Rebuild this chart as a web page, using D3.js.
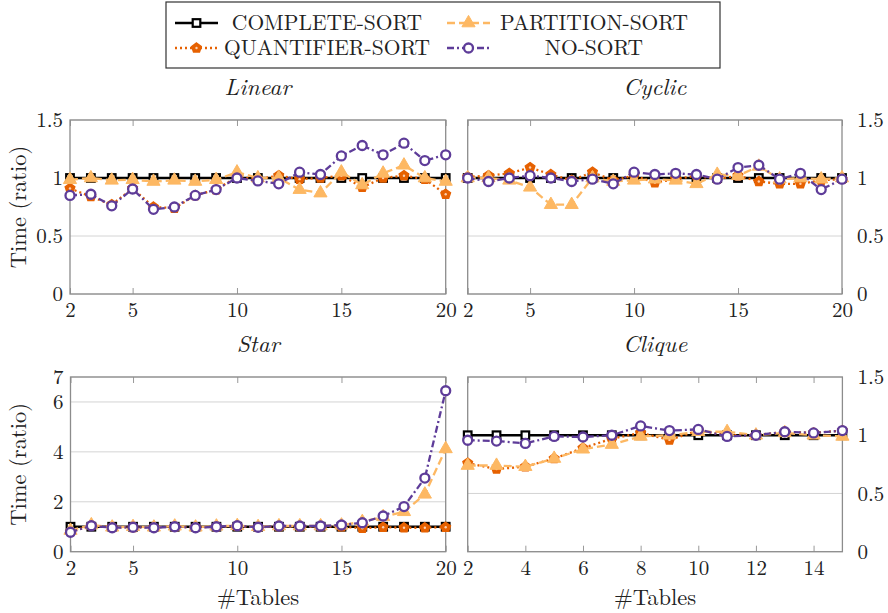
<!DOCTYPE html>
<html>
<head>
<meta charset="utf-8">
<script src="https://cdn.jsdelivr.net/npm/d3@7"></script>
<style>
body { margin: 0; background: #fff; }
text { font-family: "Latin Modern Roman", "Liberation Serif", serif; fill: #222; }
</style>
</head>
<body>
<div id="chart"></div>
<script>
// ---- data ----
var xTables20 = d3.range(2, 21);
var xTables15 = d3.range(2, 16);

var seriesNames = ["COMPLETE-SORT", "QUANTIFIER-SORT", "PARTITION-SORT", "NO-SORT"];

var linearComplete   = [1,1,1,1,1,1,1,1,1,1,1,1,1,1,1,1,1,1,1];
var linearQuantifier = [0.91,0.84,0.77,0.91,0.75,0.74,0.85,0.90,1.01,0.99,1.02,0.99,1.00,1.02,0.92,1.00,1.02,0.99,0.86];
var linearPartition  = [0.985,1.00,0.98,0.985,0.97,0.98,0.97,0.985,1.05,1.00,1.00,0.90,0.87,1.05,0.94,1.04,1.11,1.00,0.97];
var linearNoSort     = [0.85,0.86,0.76,0.905,0.73,0.75,0.85,0.90,1.00,0.975,0.95,1.05,1.03,1.19,1.28,1.20,1.30,1.15,1.20];

var cyclicComplete   = [1,1,1,1,1,1,1,1,1,1,1,1,1,1,1,1,1,1,1];
var cyclicQuantifier = [1.01,1.02,1.04,1.09,1.03,0.98,1.05,0.98,1.02,0.96,0.99,1.02,0.99,1.02,0.97,0.95,0.95,0.98,0.99];
var cyclicPartition  = [1.00,1.00,0.98,0.92,0.77,0.77,1.00,0.97,0.98,0.99,0.98,0.95,1.03,1.02,1.10,0.99,1.00,0.99,1.00];
var cyclicNoSort     = [1.00,0.97,1.00,1.02,1.00,0.97,0.99,0.95,1.05,1.03,1.04,1.03,0.99,1.09,1.11,0.99,1.04,0.90,0.99];

var starComplete   = [1,1,1,1,1,1,1,1,1,1,1,1,1,1,1,1,1,1,1];
var starQuantifier = [0.80,1.05,0.98,0.97,0.98,1.00,0.98,1.00,1.02,0.98,1.01,1.01,1.01,1.00,0.94,0.98,0.96,0.96,0.98];
var starPartition  = [0.85,1.07,0.98,1.00,0.98,1.02,0.98,1.02,1.04,1.00,1.03,1.03,1.03,1.06,1.20,1.40,1.60,2.30,4.12];
var starNoSort     = [0.78,1.04,0.96,0.98,0.96,1.00,0.96,1.00,1.04,0.98,1.03,1.03,1.03,1.07,1.16,1.43,1.81,2.95,6.45];

var cliqueComplete   = [1,1,1,1,1,1,1,1,1,1,1,1,1,1];
var cliqueQuantifier = [0.76,0.71,0.73,0.80,0.89,0.97,1.02,0.96,1.04,1.00,1.00,1.03,1.02,1.04];
var cliquePartition  = [0.74,0.74,0.73,0.80,0.88,0.92,0.99,1.00,1.03,1.03,1.00,1.02,1.00,0.99];
var cliqueNoSort     = [0.957,0.95,0.93,0.99,0.985,1.00,1.08,1.04,1.05,0.99,1.00,1.03,1.02,1.04];

var linearTicksX = [2, 5, 10, 15, 20];
var cliqueTicksX = [2, 4, 6, 8, 10, 12, 14];
var ratioTicksY = [0, 0.5, 1, 1.5];
var starTicksY = [0, 2, 4, 6, 7];

// ---- styles ----
var styles = [
  { color: "#000000", dash: null,      marker: "square" },
  { color: "#e66101", dash: "2,3",     marker: "pentagon" },
  { color: "#fdb863", dash: "8,4",     marker: "triangle" },
  { color: "#5e3c99", dash: "7,3,2,3", marker: "circle" }
];
var tickFont = 21;
var titleFont = 23.5;
var labelFont = 22.5;
var legendFont = 21.5;

var svg = d3.select("#chart").append("svg")
  .attr("width", 888)
  .attr("height", 613);

var panels = [
  { title: "Linear", x: xTables20, series: [linearComplete, linearQuantifier, linearPartition, linearNoSort],
    xDomain: [2, 20], yDomain: [0, 1.5], xTicks: linearTicksX, yTicks: ratioTicksY,
    left: 70, right: 445.7, top: 120, bottom: 294, yAxisSide: "left", yLabel: true, xLabel: false },
  { title: "Cyclic", x: xTables20, series: [cyclicComplete, cyclicQuantifier, cyclicPartition, cyclicNoSort],
    xDomain: [2, 20], yDomain: [0, 1.5], xTicks: linearTicksX, yTicks: ratioTicksY,
    left: 467.7, right: 842, top: 120, bottom: 294, yAxisSide: "right", yLabel: false, xLabel: false },
  { title: "Star", x: xTables20, series: [starComplete, starQuantifier, starPartition, starNoSort],
    xDomain: [2, 20], yDomain: [0, 7], xTicks: linearTicksX, yTicks: starTicksY,
    left: 70.5, right: 445.7, top: 377, bottom: 551.7, yAxisSide: "left", yLabel: true, xLabel: true },
  { title: "Clique", x: xTables15, series: [cliqueComplete, cliqueQuantifier, cliquePartition, cliqueNoSort],
    xDomain: [2, 15], yDomain: [0, 1.5], xTicks: cliqueTicksX, yTicks: ratioTicksY,
    left: 467.7, right: 842.4, top: 377, bottom: 551.7, yAxisSide: "right", yLabel: false, xLabel: true }
];

function pentagonPath(r) {
  var pts = d3.range(5).map(function (i) {
    var a = -Math.PI / 2 + i * 2 * Math.PI / 5;
    return [r * Math.cos(a), r * Math.sin(a)];
  });
  return "M" + pts.join("L") + "Z";
}

function drawMarker(g, kind, color) {
  if (kind === "square") {
    g.append("rect").attr("x", -3.8).attr("y", -3.8).attr("width", 7.6).attr("height", 7.6)
      .attr("fill", "#fff").attr("stroke", color).attr("stroke-width", 2.2);
  } else if (kind === "pentagon") {
    g.append("path").attr("d", pentagonPath(5))
      .attr("fill", color).attr("stroke", color).attr("stroke-width", 1.5);
    g.append("circle").attr("r", 1.2).attr("fill", "#fbd0b0");
  } else if (kind === "triangle") {
    g.append("path").attr("d", d3.symbol().type(d3.symbolTriangle).size(75)())
      .attr("fill", color).attr("stroke", color).attr("stroke-width", 1);
  } else {
    g.append("circle").attr("r", 4.5)
      .attr("fill", "#fff").attr("stroke", color).attr("stroke-width", 2.3);
  }
}

function drawPanel(p) {
  var xScale = d3.scaleLinear().domain(p.xDomain).range([p.left, p.right]);
  var yScale = d3.scaleLinear().domain(p.yDomain).range([p.bottom, p.top]);
  var g = svg.append("g");

  // grid lines
  g.selectAll(".grid").data(p.yTicks).enter().append("line")
    .attr("x1", p.left).attr("x2", p.right)
    .attr("y1", d => yScale(d)).attr("y2", d => yScale(d))
    .attr("stroke", "#d4d4d4").attr("stroke-width", 1);

  // x axes, ticks inward top and bottom
  var bottomAxis = d3.axisBottom(xScale).tickValues(p.xTicks).tickSizeInner(-6).tickSizeOuter(0).tickPadding(8);
  var xAxis = g.append("g").attr("transform", `translate(0, ${p.bottom})`).call(bottomAxis);
  xAxis.select(".domain").remove();
  xAxis.selectAll("line").attr("stroke", "#999");
  xAxis.selectAll("text").attr("font-size", tickFont).attr("fill", "#222");

  var topAxis = d3.axisTop(xScale).tickValues(p.xTicks).tickSizeInner(-6).tickSizeOuter(0).tickFormat("");
  var xTop = g.append("g").attr("transform", `translate(0, ${p.top})`).call(topAxis);
  xTop.select(".domain").remove();
  xTop.selectAll("line").attr("stroke", "#999");

  // y axis labels
  var yAxisGen = p.yAxisSide === "left" ? d3.axisLeft(yScale) : d3.axisRight(yScale);
  yAxisGen.tickValues(p.yTicks).tickSize(0).tickPadding(p.yAxisSide === "left" ? 7 : 15).tickFormat(d3.format("~g"));
  var yAxis = g.append("g")
    .attr("transform", `translate(${p.yAxisSide === "left" ? p.left : p.right}, 0)`)
    .call(yAxisGen);
  yAxis.select(".domain").remove();
  yAxis.selectAll("text").attr("font-size", tickFont).attr("fill", "#222");

  // frame
  g.append("rect")
    .attr("x", p.left).attr("y", p.top)
    .attr("width", p.right - p.left).attr("height", p.bottom - p.top)
    .attr("fill", "none").attr("stroke", "#8c8c8c").attr("stroke-width", 1.3);

  // title
  g.append("text")
    .attr("x", (p.left + p.right) / 2).attr("y", p.top - 25)
    .attr("text-anchor", "middle").attr("font-size", titleFont).attr("font-style", "italic")
    .text(p.title);

  if (p.yLabel) {
    g.append("text")
      .attr("transform", `translate(26, ${(p.top + p.bottom) / 2}) rotate(-90)`)
      .attr("text-anchor", "middle").attr("font-size", labelFont)
      .text("Time (ratio)");
  }
  if (p.xLabel) {
    g.append("text")
      .attr("x", (p.left + p.right) / 2).attr("y", 605)
      .attr("text-anchor", "middle").attr("font-size", labelFont)
      .text("#Tables");
  }

  // series
  var line = d3.line().x(d => xScale(d[0])).y(d => yScale(d[1]));
  p.series.forEach(function (values, i) {
    var pts = values.map((v, j) => [p.x[j], v]);
    var s = styles[i];
    g.append("path").datum(pts)
      .attr("d", line)
      .attr("fill", "none")
      .attr("stroke", s.color)
      .attr("stroke-width", 2.3)
      .attr("stroke-dasharray", s.dash);
    g.selectAll(null).data(pts).enter().append("g")
      .attr("transform", d => `translate(${xScale(d[0])}, ${yScale(d[1])})`)
      .each(function () { drawMarker(d3.select(this), s.marker, s.color); });
  });
}

panels.forEach(drawPanel);

// ---- legend ----
var legend = svg.append("g");
legend.append("rect")
  .attr("x", 166).attr("y", 2).attr("width", 554).attr("height", 66)
  .attr("fill", "#fff").attr("stroke", "#333").attr("stroke-width", 1.2);

var legendPos = [
  { x: 175, y: 23, tx: 327 },
  { x: 175, y: 48, tx: 327 },
  { x: 447, y: 23, tx: 594 },
  { x: 447, y: 48, tx: 594 }
];
seriesNames.forEach(function (name, i) {
  var pos = legendPos[i];
  var s = styles[i];
  legend.append("line")
    .attr("x1", pos.x).attr("x2", pos.x + 43)
    .attr("y1", pos.y).attr("y2", pos.y)
    .attr("stroke", s.color).attr("stroke-width", 2.3)
    .attr("stroke-dasharray", s.dash);
  var mg = legend.append("g").attr("transform", `translate(${pos.x + 21.5}, ${pos.y})`);
  drawMarker(mg, s.marker, s.color);
  legend.append("text")
    .attr("x", pos.tx).attr("y", pos.y + 7)
    .attr("text-anchor", "middle").attr("font-size", legendFont)
    .text(name);
});
</script>
</body>
</html>
